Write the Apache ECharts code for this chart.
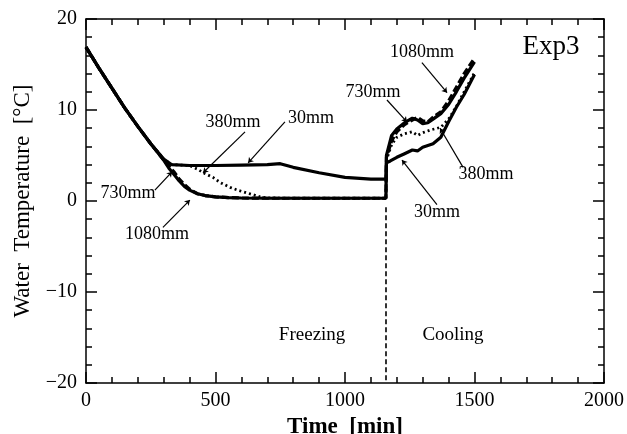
<!DOCTYPE html>
<html>
<head>
<meta charset="utf-8">
<script src="https://cdn.jsdelivr.net/npm/echarts@6/dist/echarts.min.js"></script>
<style>
html,body{margin:0;padding:0;background:#fff;}
#chart{width:627px;height:434px;}
</style>
</head>
<body>
<div id="chart"></div>
<script>
// ---- data ----
var time30  = [0,50,100,150,200,250,300,330,400,500,600,700,750,800,900,1000,1100,1158,1160,1175,1200,1230,1260,1280,1300,1340,1370,1400,1430,1460,1500];
var temp30  = [16.9,14.6,12.4,10.2,8.2,6.3,4.6,4.0,3.9,3.9,3.95,4.0,4.1,3.7,3.1,2.6,2.4,2.4,4.2,4.4,4.8,5.2,5.6,5.5,5.9,6.3,7.0,8.7,10.3,11.7,13.9];

var time380 = [0,50,100,150,200,250,300,330,400,430,460,490,520,556,590,620,650,672,700,800,900,1000,1100,1158,1160,1180,1200,1230,1260,1280,1300,1330,1370,1400,1430,1460,1500];
var temp380 = [16.9,14.6,12.4,10.2,8.2,6.3,4.6,4.0,3.9,3.5,3.0,2.6,2.0,1.5,1.15,0.9,0.65,0.45,0.35,0.3,0.3,0.3,0.3,0.3,4.5,6.2,7.0,7.4,7.6,7.2,7.5,7.8,8.1,9.0,10.4,12.0,14.1];

var time730 = [0,50,100,150,200,250,300,320,340,360,380,400,430,460,500,550,600,700,800,900,1000,1100,1158,1160,1180,1200,1230,1260,1280,1300,1320,1340,1370,1400,1430,1460,1500];
var temp730 = [16.9,14.6,12.4,10.2,8.2,6.3,4.5,3.6,2.9,2.2,1.6,1.2,0.8,0.6,0.45,0.38,0.33,0.3,0.3,0.3,0.3,0.3,0.3,5.0,7.2,7.9,8.6,9.1,8.9,8.5,8.6,9.0,9.6,10.6,12.0,13.5,15.3];

var time1080 = [0,50,100,150,200,250,300,320,340,360,380,400,430,460,500,550,600,700,800,900,1000,1100,1158,1160,1180,1200,1230,1260,1280,1300,1320,1340,1370,1400,1430,1460,1500];
var temp1080 = [16.9,14.6,12.4,10.2,8.2,6.3,4.5,3.8,3.2,2.4,1.8,1.3,0.8,0.6,0.45,0.38,0.33,0.3,0.3,0.3,0.3,0.3,0.3,4.8,6.6,7.6,8.4,8.9,9.2,8.8,8.7,9.2,9.8,11.0,12.5,14.0,15.7];

var xTicks = [0,500,1000,1500,2000];
var yTicks = [-20,-10,0,10,20];

// annotation texts and anchor points (data coords)
var labelTexts = ['380mm','30mm','730mm','1080mm','1080mm','730mm','380mm','30mm','Freezing','Cooling','Exp3'];
var labelT     = [568,869,162,274,1297,1108,1544,1355,873,1417,1795];
var labelV     = [8.6,9.1,0.9,-3.7,16.3,12.0,2.9,-1.2,-14.7,-14.7,16.9];

var leaderFrom = [[614,7.6],[768,8.7],[266,1.2],[297,-2.9],[1297,15.2],[1162,11.1],[1456,3.7],[1355,-0.4]];
var leaderTo   = [[452,3.1],[626,4.2],[332,3.2],[401,0.1],[1394,11.9],[1239,8.7],[1367,8.0],[1220,4.5]];

var switchTime = 1158;

function pairs(t, v){ return t.map(function(x,i){ return [x, v[i]]; }); }

var serif = '"Liberation Serif","DejaVu Serif",serif';
var plainFmt = function(v){ return String(v).replace('-', '\u2212'); };

function xAxisDef(pos, showLabel){
  return {
    type:'value', position:pos, min:xTicks[0], max:xTicks[xTicks.length-1], interval:500,
    axisLine:{show:true, onZero:false, lineStyle:{color:'#000', width:1.5}},
    axisTick:{show:true, inside:true, length:11, lineStyle:{color:'#000', width:1.5}},
    minorTick:{show:true, splitNumber:5, length:6, lineStyle:{color:'#000', width:1.5}},
    splitLine:{show:false},
    axisLabel:{show:showLabel, color:'#000', fontFamily:serif, fontSize:20, margin:8, formatter:plainFmt},
    name: showLabel ? 'Time  [min]' : '',
    nameLocation:'middle', nameGap:28,
    nameTextStyle:{color:'#000', fontFamily:serif, fontSize:23, fontWeight:'bold'}
  };
}
function yAxisDef(pos, showLabel){
  return {
    type:'value', position:pos, min:yTicks[0], max:yTicks[yTicks.length-1], interval:10,
    axisLine:{show:true, onZero:false, lineStyle:{color:'#000', width:1.5}},
    axisTick:{show:true, inside:true, length:11, lineStyle:{color:'#000', width:1.5}},
    minorTick:{show:true, splitNumber:5, length:6, lineStyle:{color:'#000', width:1.5}},
    splitLine:{show:false},
    axisLabel:{show:showLabel, color:'#000', fontFamily:serif, fontSize:20, margin:9, formatter:plainFmt},
    name: showLabel ? 'Water  Temperature  [\u00B0C]' : '',
    nameLocation:'middle', nameGap:51,
    nameTextStyle:{color:'#000', fontFamily:serif, fontSize:23}
  };
}

var markPts = labelTexts.map(function(s,i){
  return {name:s, coord:[labelT[i], labelV[i]],
          label:{fontSize: s==='Exp3' ? 27 : (s==='Freezing'||s==='Cooling' ? 19 : 18)}};
});
var leaders = leaderFrom.map(function(f,i){
  return [{coord:f}, {coord:leaderTo[i]}];
});
leaders.push([{coord:[switchTime,-0.7], symbol:'none', lineStyle:{type:[5,3], width:1.6}},
              {coord:[switchTime,-20], symbol:'none'}]);

var baseLine = {type:'line', showSymbol:false, symbol:'none', animation:false, xAxisIndex:0, yAxisIndex:0, z:3};

var option = {
  backgroundColor:'#fff',
  animation:false,
  grid:{left:86, right:23, top:19, bottom:51, containLabel:false, outerBoundsMode:'none'},
  xAxis:[xAxisDef('bottom', true), xAxisDef('top', false)],
  yAxis:[yAxisDef('left', true), yAxisDef('right', false)],
  series:[
    Object.assign({}, baseLine, {name:'380mm', data:pairs(time380,temp380),
      lineStyle:{color:'#000', width:2.8, type:[2,3]}}),
    Object.assign({}, baseLine, {name:'1080mm', data:pairs(time1080,temp1080),
      lineStyle:{color:'#000', width:3.2, type:[7,3]}}),
    Object.assign({}, baseLine, {name:'730mm', data:pairs(time730,temp730),
      lineStyle:{color:'#000', width:3.2}}),
    Object.assign({}, baseLine, {name:'30mm', data:pairs(time30,temp30),
      lineStyle:{color:'#000', width:3.2},
      markLine:{silent:true, animation:false, symbol:['none','arrow'], symbolSize:5,
        label:{show:false}, lineStyle:{color:'#000', width:1.2, type:'solid'}, data:leaders},
      markPoint:{silent:true, animation:false, symbol:'circle', symbolSize:0,
        label:{show:true, position:'inside', formatter:'{b}', color:'#000', fontFamily:serif, fontSize:18},
        data:markPts}
    })
  ]
};

var chart = echarts.init(document.getElementById('chart'), null, {renderer:'canvas'});
chart.setOption(option);
</script>
</body>
</html>
